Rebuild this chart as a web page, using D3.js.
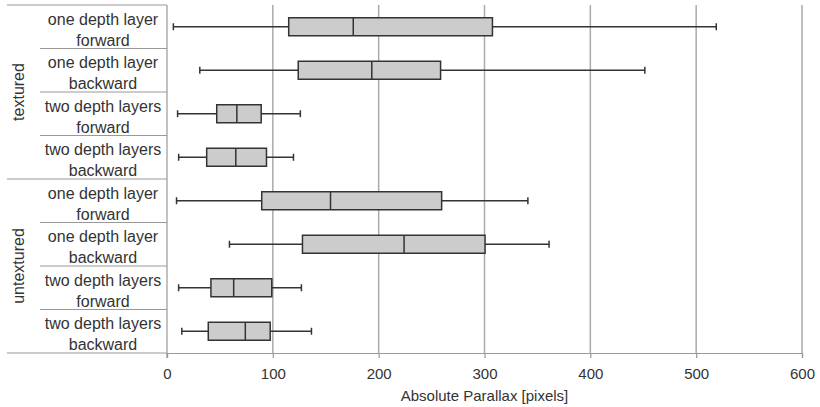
<!DOCTYPE html>
<html><head><meta charset="utf-8">
<script src="https://cdn.jsdelivr.net/npm/d3@7"></script>
<style>body{margin:0;background:#fff}svg{display:block}text{font-family:"Liberation Sans",Arial,sans-serif;fill:#333}</style>
</head><body><svg id="c" width="820" height="407"></svg>
<script>
const groups = ["textured","untextured"];
const rowLabels = [
  ["one depth layer","forward"],["one depth layer","backward"],
  ["two depth layers","forward"],["two depth layers","backward"],
  ["one depth layer","forward"],["one depth layer","backward"],
  ["two depth layers","forward"],["two depth layers","backward"]
];
const rowGroup = [0,0,0,0,1,1,1,1];
const whiskerMin = [6, 31, 10, 11, 9, 59, 11, 14];
const q1 =        [115, 124, 47, 37.5, 89.5, 128, 41.5, 39];
const median =    [176, 193.5, 66, 65, 154.5, 224, 63, 74];
const q3 =        [307.5, 258.5, 89, 94, 259.5, 300.5, 99, 97.5];
const whiskerMax = [519, 451.5, 126, 119.5, 341, 361, 127, 136.5];
const xTicks = [0,100,200,300,400,500,600];
const xTitle = "Absolute Parallax [pixels]";

const svg = d3.select("#c");
const L = 167, R = 802, T = 5, B = 353;
const x = d3.scaleLinear().domain([0,600]).range([L,R]);
const y = d3.scaleBand().domain(d3.range(rowLabels.length)).range([T,B]);
const bh = 18, capH = 7;

// gridlines
svg.append("g").selectAll("line").data(xTicks.slice(1)).join("line")
  .attr("x1",d=>x(d)).attr("x2",d=>x(d)).attr("y1",T).attr("y2",B)
  .attr("stroke","#aaa").attr("stroke-width",1.5);

// table lines
const tl = svg.append("g").attr("stroke","#999").attr("stroke-width",1.2);
tl.append("line").attr("x1",7).attr("x2",L).attr("y1",T).attr("y2",T);
tl.append("line").attr("x1",7).attr("x2",L).attr("y1",B).attr("y2",B);
d3.range(1,rowLabels.length).forEach(i=>{
  const yy = y(i);
  const full = rowGroup[i] !== rowGroup[i-1];
  tl.append("line").attr("x1",full?7:40).attr("x2",L).attr("y1",yy).attr("y2",yy);
});
tl.append("line").attr("x1",L).attr("x2",L).attr("y1",T).attr("y2",B+5);

// x axis
const ax = svg.append("g").attr("transform",`translate(0,${B})`)
  .call(d3.axisBottom(x).tickValues(xTicks).tickSize(5).tickPadding(10));
ax.select(".domain").attr("stroke","#999").attr("stroke-width",1.2);
ax.selectAll(".tick line").attr("stroke","#999").attr("stroke-width",1.2);
ax.selectAll(".tick text").style("font-size","15px").attr("fill","#333")
  .style("font-family",'"Liberation Sans",Arial,sans-serif');
svg.append("text").attr("x",(L+R)/2).attr("y",401).attr("text-anchor","middle")
  .style("font-size","15px").text(xTitle);

// row labels
rowLabels.forEach((lbl,i)=>{
  const cy = y(i)+y.bandwidth()/2;
  const t = svg.append("text").attr("x",103).attr("text-anchor","middle").style("font-size","16px");
  t.append("tspan").attr("x",103).attr("y",cy-2).text(lbl[0]);
  t.append("tspan").attr("x",103).attr("y",cy+19).text(lbl[1]);
});
// group labels
groups.forEach((g,gi)=>{
  const idx = rowGroup.map((v,i)=>v===gi?i:-1).filter(i=>i>=0);
  const cy = (y(idx[0]) + y(idx[idx.length-1]) + y.bandwidth())/2;
  svg.append("text").attr("transform",`translate(24,${cy}) rotate(-90)`)
    .attr("text-anchor","middle").style("font-size","16px").text(g);
});

// boxes
const bx = svg.append("g");
rowLabels.forEach((_,i)=>{
  const cy = y(i)+y.bandwidth()/2;
  const g = bx.append("g").attr("stroke","#333").attr("stroke-width",1.5);
  g.append("line").attr("x1",x(whiskerMin[i])).attr("x2",x(q1[i])).attr("y1",cy).attr("y2",cy);
  g.append("line").attr("x1",x(q3[i])).attr("x2",x(whiskerMax[i])).attr("y1",cy).attr("y2",cy);
  [whiskerMin[i],whiskerMax[i]].forEach(v=>g.append("line").attr("x1",x(v)).attr("x2",x(v)).attr("y1",cy-capH/2).attr("y2",cy+capH/2));
  g.append("rect").attr("x",x(q1[i])).attr("width",x(q3[i])-x(q1[i])).attr("y",cy-bh/2).attr("height",bh)
    .attr("fill","#cccccc");
  g.append("line").attr("x1",x(median[i])).attr("x2",x(median[i])).attr("y1",cy-bh/2).attr("y2",cy+bh/2);
});
</script></body></html>
